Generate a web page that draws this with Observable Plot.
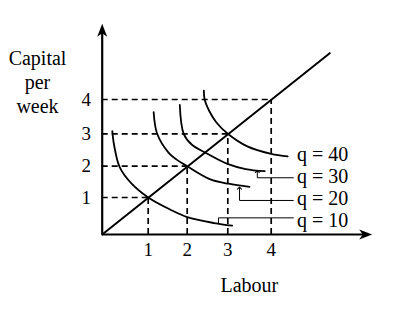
<!DOCTYPE html>
<html><head><meta charset="utf-8">
<script src="https://cdn.jsdelivr.net/npm/d3@7"></script>
<script src="https://cdn.jsdelivr.net/npm/@observablehq/plot@0.6"></script>
<style>body{margin:0;background:#fff}</style>
</head><body><div id="chart"></div>
<script>
// Tick values on both axes
const ticks = [1, 2, 3, 4];
// Isoquant curves (labour, capital)
const q10 = [[0.22,3.08],[0.26,2.64],[0.38,1.97],[0.64,1.44],[1,1],[1.57,0.67],[2,0.47],[2.66,0.31],[3.10,0.24]];
const q20 = [[1.14,3.63],[1.23,3.0],[1.52,2.42],[1.72,2.21],[2,2],[2.57,1.58],[3.02,1.44],[3.5,1.34]];
const q30 = [[1.81,3.84],[1.91,3.0],[2.11,2.67],[2.43,2.43],[2.99,2.07],[3.41,1.91],[3.85,1.84]];
const q40 = [[2.41,4.26],[2.43,4.0],[2.55,3.65],[2.72,3.33],[3,3],[3.45,2.61],[4,2.38],[4.38,2.3]];
// Output levels and their label anchors (data units)
const levels = [10, 20, 30, 40];
const labelX = [4.55, 4.55, 4.55, 4.55];
const labelY = [0.38, 0.96, 1.67, 2.36];
// Leader lines from labels to curves
const leader10 = [[4.51,0.45],[2.77,0.45],[2.77,0.30]];
const leader20 = [[4.51,0.92],[3.27,0.92],[3.27,1.30]];
const leader30 = [[4.51,1.63],[3.68,1.63],[3.68,1.83]];
// Expansion path (ray) end and axis extents
const rayEnd = 5.35;
const xAxisEnd = 6.15, yAxisEnd = 6.0;
const xTip = 6.33, yTip = 6.21;

const serif = "'Liberation Serif', 'Times New Roman', serif";
const stealth = {draw(ctx) { ctx.moveTo(0,0); ctx.lineTo(5,13); ctx.lineTo(0,9.5); ctx.lineTo(-5,13); ctx.closePath(); }};

const chart = Plot.plot({
  width: 400, height: 312,
  marginLeft: 101.7, marginRight: 28, marginTop: 25, marginBottom: 78,
  // piecewise scales follow the hand-drawn tick spacing of the original
  x: {type: "linear", domain: [0, 1, 2, 3, 4, 6.33], range: [101.7, 147.7, 186.7, 227.3, 270.7, 371.7], axis: null},
  y: {type: "linear", domain: [0, 1, 2, 3, 4, 6.25], range: [234, 197, 165.7, 133.3, 99, 21.8], axis: null},
  style: {fontFamily: serif, background: "white", color: "black"},
  marks: [
    // dashed guides
    Plot.ruleY(ticks, {y: d => d, x1: 0, x2: d => d, stroke: "black", strokeWidth: 1.7, strokeDasharray: "6,4"}),
    Plot.ruleX(ticks, {x: d => d, y1: 0, y2: d => d, stroke: "black", strokeWidth: 1.7, strokeDasharray: "6,4"}),
    // axes
    Plot.ruleX([0], {y1: 0, y2: yAxisEnd, stroke: "black", strokeWidth: 2.2}),
    Plot.ruleY([0], {x1: 0, x2: xAxisEnd, stroke: "black", strokeWidth: 2.2}),
    Plot.dot([{x: 0, y: yTip, a: 0}, {x: xTip, y: 0, a: 90}], {x: "x", y: "y", rotate: "a", symbol: stealth, fill: "black", stroke: "none"}),
    // ray
    Plot.line([[0,0],[rayEnd,rayEnd]], {stroke: "black", strokeWidth: 2}),
    // isoquants
    Plot.line(q10, {curve: "catmull-rom", stroke: "black", strokeWidth: 1.8}),
    Plot.line(q20, {curve: "catmull-rom", stroke: "black", strokeWidth: 1.8}),
    Plot.line(q30, {curve: "catmull-rom", stroke: "black", strokeWidth: 1.8}),
    Plot.line(q40, {curve: "catmull-rom", stroke: "black", strokeWidth: 1.8}),
    // leaders
    Plot.line(leader10, {stroke: "black", strokeWidth: 1}),
    Plot.line(leader20, {stroke: "black", strokeWidth: 1, markerEnd: "arrow"}),
    Plot.line(leader30, {stroke: "black", strokeWidth: 1, markerEnd: "arrow"}),
    // labels
    Plot.text(levels, {x: (d, i) => labelX[i], y: (d, i) => labelY[i], text: d => `q = ${d}`, textAnchor: "start", lineAnchor: "middle", dx: 2, fontSize: 20, fill: "black"}),
    // tick labels
    Plot.text(ticks, {x: d => d, frameAnchor: "bottom", lineAnchor: "middle", dy: 15, text: d => String(d), fontSize: 19, fill: "black"}),
    Plot.text(ticks, {y: d => d, frameAnchor: "left", textAnchor: "middle", lineAnchor: "middle", dx: -16, text: d => String(d), fontSize: 19, fill: "black"}),
    // axis titles
    Plot.text(["Labour"], {frameAnchor: "bottom", lineAnchor: "middle", dx: 12, dy: 51, fontSize: 20, fill: "black"}),
    Plot.text(["Capital\nper\nweek"], {frameAnchor: "top-left", textAnchor: "middle", lineAnchor: "middle", dx: -64.7, dy: 56, lineHeight: 1.19, fontSize: 20, fill: "black"})
  ]
});
document.getElementById("chart").appendChild(chart);
</script>
</body></html>
